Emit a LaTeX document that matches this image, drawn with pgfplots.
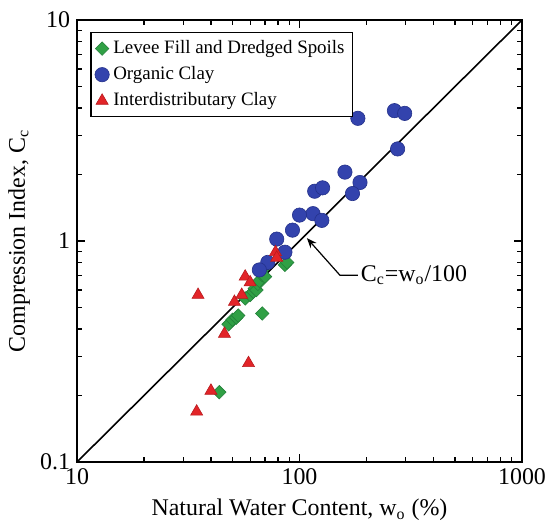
\documentclass[border=0pt]{standalone}
\usepackage{fontspec}
\setmainfont{Liberation Serif}
\usepackage{pgfplots}
\pgfplotsset{compat=1.18}
\usetikzlibrary{arrows.meta}
\definecolor{levee}{HTML}{30A045}
\definecolor{leveeEdge}{HTML}{23803A}
\definecolor{organic}{HTML}{3343AD}
\definecolor{organicEdge}{HTML}{24318A}
\definecolor{inter}{HTML}{E22428}
\definecolor{interEdge}{HTML}{B81A1E}

\begin{document}
\begin{tikzpicture}
  \begin{axis}[
    name=ax,
    xmode=log, ymode=log,
    scale only axis, width=222.5bp, height=221bp,
    xmin=10, xmax=1000, ymin=0.1, ymax=10,
    xtick={10,100,1000}, xticklabels={10,100,1000},
    ytick={0.1,1,10}, yticklabels={0.1,1,10},
    minor xtick={20,30,40,50,60,70,80,90,200,300,400,500,600,700,800,900},
    minor ytick={0.2,0.3,0.4,0.5,0.6,0.7,0.8,0.9,2,3,4,5,6,7,8,9},
    tick align=inside,
    major tick length=4bp, minor tick length=2.3bp,
    every tick/.style={black, line width=0.6pt},
    axis line style={line width=0.8pt},
    /pgf/number format/assume math mode=true,
    ticklabel style={font=\fontsize{12}{13}\selectfont},
    xlabel={Natural Water Content, w\textsubscript{o} (\%)},
    ylabel={Compression Index, C\textsubscript{c}},
    label style={font=\fontsize{12}{14}\selectfont},
    ylabel style={at={(axis description cs:-0.09,0.5)}, anchor=south},
    legend style={at={(axis description cs:0.03,0.973)}, anchor=north west,
      draw=black, line width=0.6pt, font=\fontsize{9.5}{10.5}\selectfont,
      inner sep=2bp, row sep=1bp},
    legend cell align=left,
  ]
    \addplot[only marks, mark=square*, mark size=2.4pt,
      mark options={rotate=45, fill=levee, draw=leveeEdge, line width=0.3pt}]
      coordinates {(43.6,0.207) (48,0.42) (50,0.44) (52,0.45) (53,0.46)
                   (57,0.55) (60,0.57) (62,0.59) (63,0.61) (64,0.60)
                   (65,0.64) (66,0.66) (68,0.70) (68,0.74) (70,0.69)
                   (68,0.47) (86,0.78) (88,0.80)};
    \addlegendentry{Levee Fill and Dredged Spoils}
    \addplot[only marks, mark=*, mark size=3.6pt,
      mark options={fill=organic, draw=organicEdge, line width=0.3pt}]
      coordinates {(183,3.59) (267,3.89) (297,3.78) (276,2.61) (160,2.05)
                   (187,1.84) (173,1.64) (117,1.68) (127,1.74) (115,1.33)
                   (100,1.31) (126,1.24) (93,1.12) (79,1.02) (86,0.89)
                   (72,0.80) (66,0.74)};
    \addlegendentry{Organic Clay}
    \addplot[only marks, mark=triangle*, mark size=3.5pt,
      mark options={fill=inter, draw=interEdge, line width=0.3pt}]
      coordinates {(35,0.57) (46,0.38) (40,0.21) (34.5,0.169) (59,0.28)
                   (51,0.53) (55,0.57) (57,0.69) (60,0.65) (78,0.89) (79,0.84)};
    \addlegendentry{Interdistributary Clay}
    \addplot[black, line width=0.8pt, forget plot] coordinates {(10,0.1) (1000,10)};
    \draw[line width=0.6pt, -{Stealth[length=5pt,width=4pt]}]
      (axis cs:183,0.70) -- (axis cs:152,0.70) -- (axis cs:108,1.03);
    \node[anchor=west, inner sep=1pt, font=\fontsize{12}{14}\selectfont]
      at (axis cs:184,0.70) {C\textsubscript{c}=w\textsubscript{o}/100};
  \end{axis}
  \pgfresetboundingbox
  \path ([shift={(-38.5bp,-31bp)}]ax.south west)
    rectangle ([shift={(16bp,10bp)}]ax.north east);
\end{tikzpicture}
\end{document}
